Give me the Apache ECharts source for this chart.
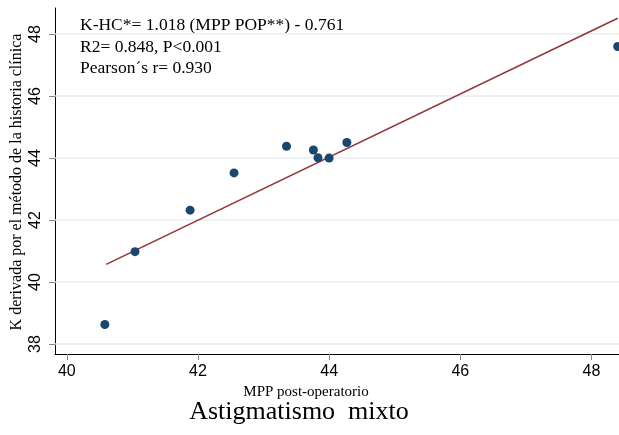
<!DOCTYPE html>
<html>
<head>
<meta charset="utf-8">
<script src="https://cdn.jsdelivr.net/npm/echarts@6/dist/echarts.min.js"></script>
<style>
html,body{margin:0;padding:0;background:#fff;}
#chart{width:619px;height:435px;}
</style>
</head>
<body>
<div id="chart"></div>
<script>
// Data
const mppPost = [40.58, 41.04, 41.88, 42.55, 43.35, 43.76, 43.83, 44.0, 44.27, 48.4];
const kHC     = [38.63, 40.98, 42.32, 43.52, 44.38, 44.26, 44.01, 44.0, 44.50, 47.60];
const fitX = [40.6, 48.4];
const fitY = [40.57, 48.51];
const xTicks = [40, 42, 44, 46, 48];
const yTicks = [38, 40, 42, 44, 46, 48];
const annotation = [
  'K-HC*= 1.018 (MPP POP**) - 0.761',
  'R2= 0.848, P<0.001',
  'Pearson\u00b4s r= 0.930'
];
const xTitle = 'MPP post-operatorio';
const yTitle = 'K derivada por el método de la historia clínica';
const chartTitle = 'Astigmatismo  mixto';

const points = mppPost.map((x, i) => [x, kHC[i]]);
const fitLine = fitX.map((x, i) => [x, fitY[i]]);

const chart = echarts.init(document.getElementById('chart'), null, {renderer: 'canvas'});
const serif = '"Liberation Serif", "Times New Roman", serif';
const sans = '"Liberation Sans", Arial, sans-serif';

chart.setOption({
  animation: false,
  backgroundColor: '#ffffff',
  grid: {left: 55, top: 8, right: 0, bottom: 81, containLabel: false},
  xAxis: {
    type: 'value', min: 39.82, max: 48.42,
    axisLine: {show: true, lineStyle: {color: '#000', width: 1}},
    axisTick: {show: true, customValues: xTicks, length: 6, lineStyle: {color: '#888'}},
    axisLabel: {customValues: xTicks, color: '#000', fontFamily: sans, fontSize: 16, margin: 10},
    splitLine: {show: false}
  },
  yAxis: {
    type: 'value', min: 37.68, max: 48.84,
    axisLine: {show: true, lineStyle: {color: '#000', width: 1}},
    axisTick: {show: true, customValues: yTicks, length: 6, lineStyle: {color: '#888'}},
    axisLabel: {customValues: yTicks, color: '#000', fontFamily: sans, fontSize: 16, margin: 11, rotate: 90},
    splitLine: {show: false}
  },
  series: [
    {
      type: 'line', data: [], silent: true, z: 1,
      markLine: {
        symbol: 'none', silent: true, label: {show: false}, z: 1,
        lineStyle: {color: '#e6eff1', width: 1.5, type: 'solid'},
        data: yTicks.map(v => ({yAxis: v}))
      }
    },
    {
      type: 'line', data: fitLine, showSymbol: false, symbol: 'none',
      lineStyle: {color: '#93363c', width: 1.6}, z: 3
    },
    {
      type: 'scatter', data: points, symbol: 'circle', symbolSize: 9,
      itemStyle: {color: '#1a476f', opacity: 1}, z: 4, clip: false
    }
  ],
  graphic: [
    {
      type: 'text', left: 80, top: 15,
      style: {text: annotation.join('\n'), font: '17.5px ' + serif, fill: '#000', lineHeight: 21.5}
    },
    {
      type: 'text', x: 306, y: 392,
      style: {text: xTitle, font: '15px ' + serif, fill: '#000', textAlign: 'center', textVerticalAlign: 'middle'}
    },
    {
      type: 'text', x: 299, y: 412,
      style: {text: chartTitle, font: '26px ' + serif, fill: '#000', textAlign: 'center', textVerticalAlign: 'middle'}
    },
    {
      type: 'text', x: 17, y: 182, rotation: Math.PI / 2,
      style: {text: yTitle, font: '16px ' + serif, fill: '#000', textAlign: 'center', textVerticalAlign: 'middle'}
    }
  ]
});
</script>
</body>
</html>
